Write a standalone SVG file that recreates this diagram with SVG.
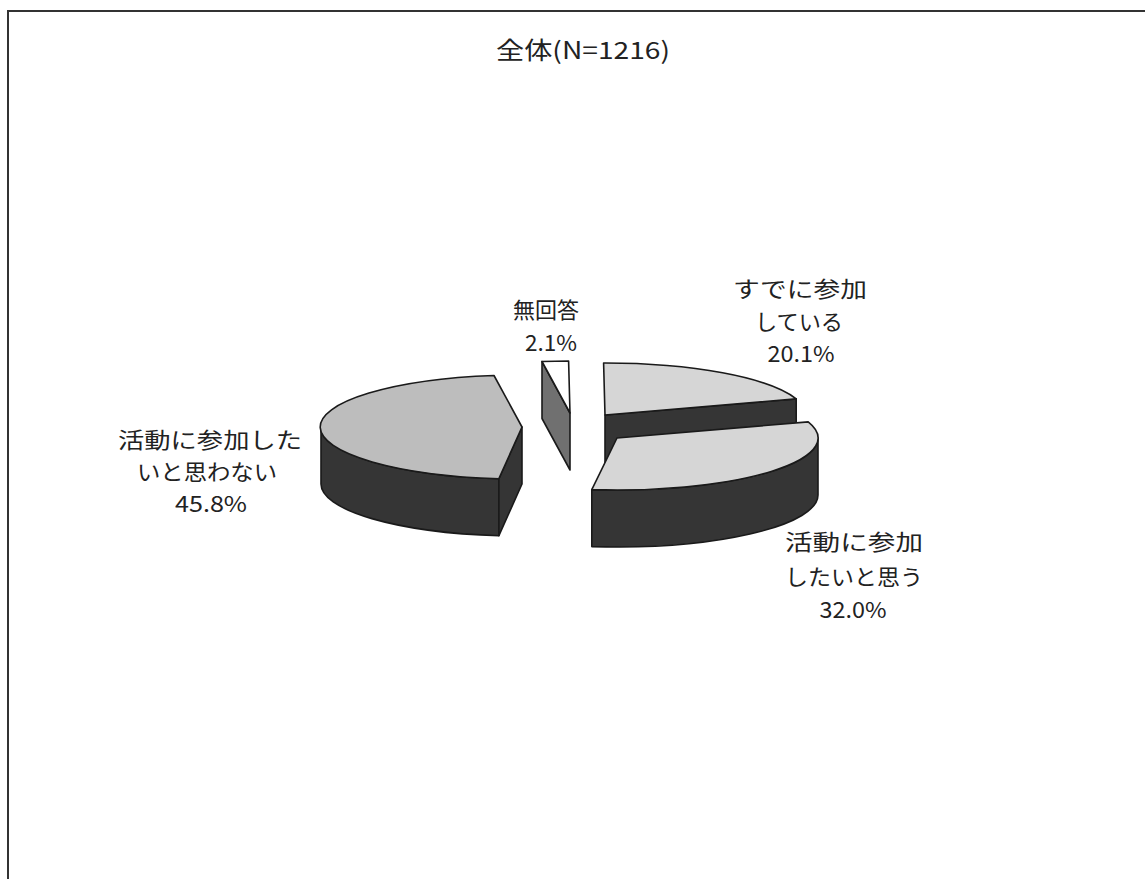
<svg xmlns="http://www.w3.org/2000/svg" width="1145" height="879" viewBox="0 0 1145 879">
<style>
.lbl{font-family:"Noto Sans CJK JP","Noto Sans",sans-serif;font-size:22px;fill:#222;text-anchor:middle}
.ttl{font-family:"Noto Sans CJK JP","Noto Sans",sans-serif;font-size:24px;fill:#222;text-anchor:middle}
.edge{stroke:#1a1a1a;stroke-width:1.6;stroke-linejoin:round}
.wall{fill:#353535}
.topA{fill:#bdbdbd}
.topB{fill:#d6d6d6}
.topW{fill:#ffffff}
.sideG{fill:#707070}
</style>
<rect x="0" y="0" width="1145" height="879" fill="#ffffff"/>
<path d="M8,879 L8,11 L1145,11" fill="none" stroke="#333" stroke-width="2"/>
<text class="ttl" x="583" y="59" textLength="174" lengthAdjust="spacingAndGlyphs">全体(N=1216)</text>
<g id="slice-noanswer">
<path class="edge sideG" d="M570,413 L542,361.5 L542,418.5 L570,470 Z"/>
<path class="edge topW" d="M570,413 L542,361.5 A201,52 0 0 1 568.6,361 Z"/>
<text class="lbl" x="546" y="318" textLength="66" lengthAdjust="spacingAndGlyphs">無回答</text>
<text class="lbl" x="551" y="351" textLength="52" lengthAdjust="spacingAndGlyphs">2.1%</text>
</g>
<g id="slice-already">
<path class="edge wall" d="M605,415 L796.2,398.9 L796.2,455.9 L605,472 Z"/>
<path class="edge topB" d="M605,415 L603.6,363 A201,52 0 0 1 796.2,398.9 Z"/>
<text class="lbl" x="800" y="297" textLength="134" lengthAdjust="spacingAndGlyphs">すでに参加</text>
<text class="lbl" x="799" y="330" textLength="88" lengthAdjust="spacingAndGlyphs">している</text>
<text class="lbl" x="801" y="362" textLength="67" lengthAdjust="spacingAndGlyphs">20.1%</text>
</g>
<g id="slice-no">
<path class="edge wall" d="M498.9,478.7 A201,52 0 0 1 321,427 L321,484 A201,52 0 0 0 498.9,535.7 Z"/>
<path class="edge wall" d="M522,427 L498.9,478.7 L498.9,535.7 L522,484 Z"/>
<path class="edge topA" d="M522,427 L498.9,478.7 A201,52 0 0 1 494,375.5 Z"/>
<text class="lbl" x="210" y="448" textLength="184" lengthAdjust="spacingAndGlyphs">活動に参加した</text>
<text class="lbl" x="207" y="480" textLength="140" lengthAdjust="spacingAndGlyphs">いと思わない</text>
<text class="lbl" x="211" y="512" textLength="72" lengthAdjust="spacingAndGlyphs">45.8%</text>
</g>
<g id="slice-want">
<path class="edge wall" d="M818,438 A201,52 0 0 1 591.8,489.6 L591.8,546.6 A201,52 0 0 0 818,495 Z"/>
<path class="edge topB" d="M617,438 L808.2,421.9 A201,52 0 0 1 591.8,489.6 Z"/>
<text class="lbl" x="854" y="550" textLength="138" lengthAdjust="spacingAndGlyphs">活動に参加</text>
<text class="lbl" x="854" y="585" textLength="138" lengthAdjust="spacingAndGlyphs">したいと思う</text>
<text class="lbl" x="853" y="618" textLength="67" lengthAdjust="spacingAndGlyphs">32.0%</text>
</g>
<g id="connectors"></g>
</svg>
